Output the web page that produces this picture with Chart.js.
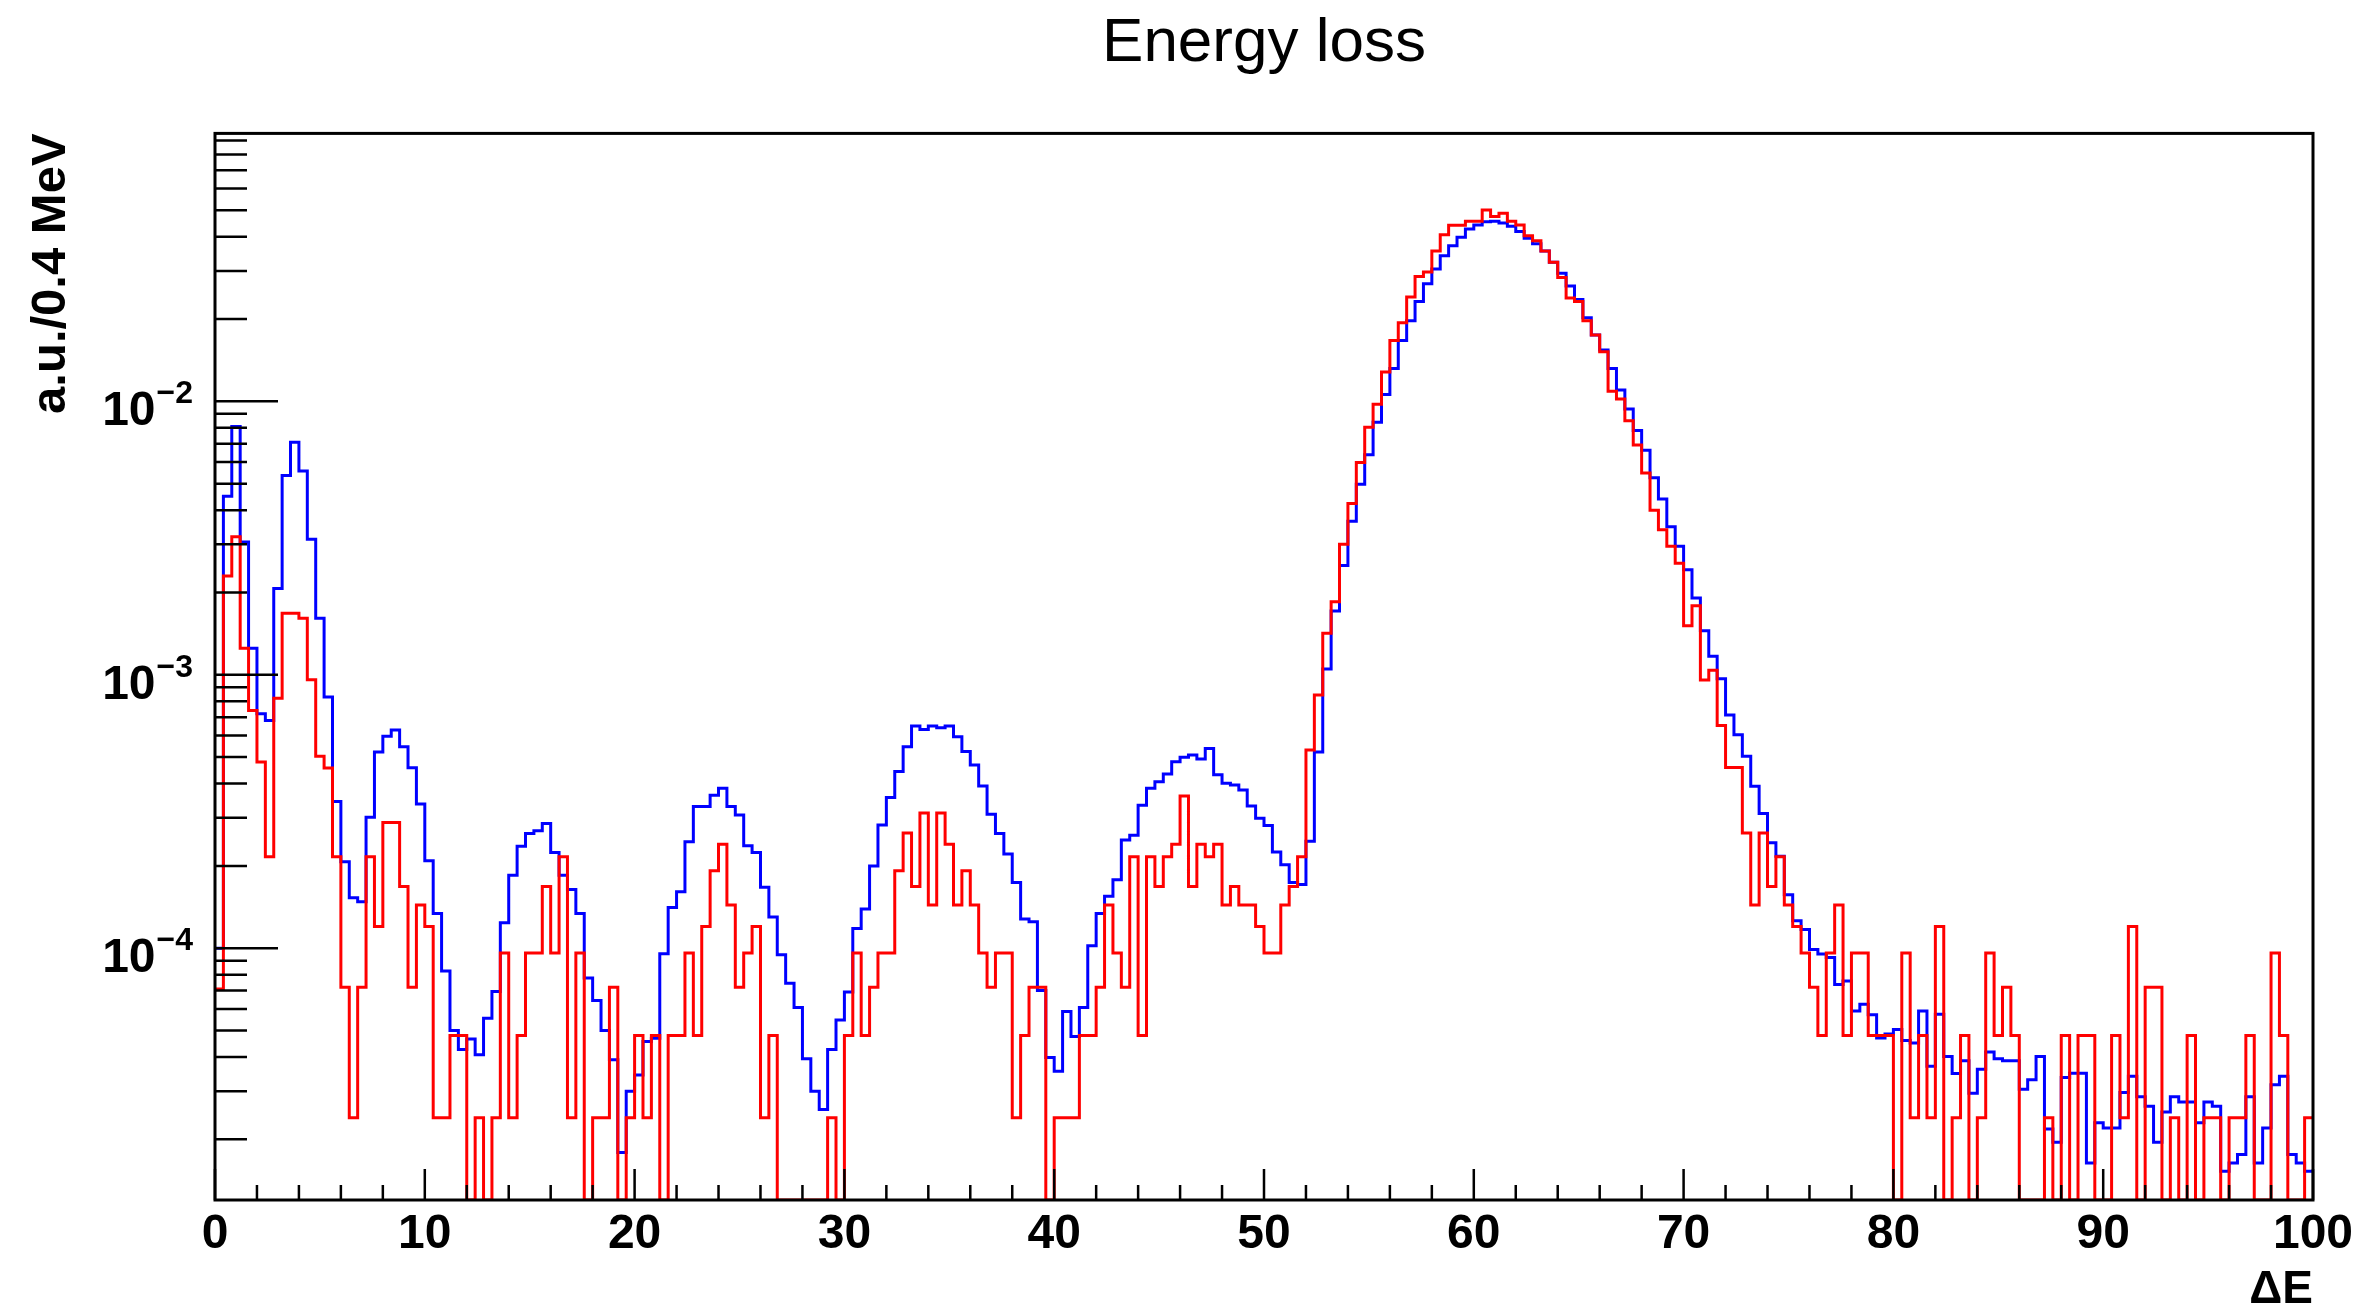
<!DOCTYPE html>
<html>
<head>
<meta charset="utf-8">
<script src="https://cdn.jsdelivr.net/npm/chart.js@4.4.1/dist/chart.umd.min.js"></script>
<style>
  html, body { margin: 0; padding: 0; background: #ffffff; }
  #wrap { width: 2363px; height: 1310px; }
</style>
</head>
<body>
<div id="wrap"><canvas id="c" width="2363" height="1310"></canvas></div>
<script>
// ---- histogram binning (0 .. 100, 0.4 MeV per bin) ----
const xMin = 0;
const xMax = 100;
const binWidth = 0.4;

// ---- y axis range (log) ----
const yMin = 1.2e-5;
const yMax = 0.0955;

// ---- tick labels ----
const xTickStep = 10;
const yLabelValues = [1e-4, 1e-3, 1e-2];
const yLabelExponents = ['\u22124', '\u22123', '\u22122'];

// ---- series values (per bin) ----
const blueValues = [
 1.00e-4, 4.50e-3, 8.09e-3, 3.06e-3, 1.25e-3, 7.21e-4, 6.81e-4, 2.07e-3, 5.36e-3, 7.08e-3,
 5.56e-3, 3.13e-3, 1.61e-3, 8.30e-4, 3.44e-4, 2.07e-4, 1.53e-4, 1.48e-4, 3.01e-4, 5.22e-4,
 5.96e-4, 6.28e-4, 5.46e-4, 4.57e-4, 3.37e-4, 2.09e-4, 1.34e-4, 8.26e-5, 5.00e-5, 4.26e-5,
 4.66e-5, 4.08e-5, 5.55e-5, 6.95e-5, 1.24e-4, 1.85e-4, 2.36e-4, 2.63e-4, 2.69e-4, 2.86e-4,
 2.24e-4, 1.85e-4, 1.64e-4, 1.34e-4, 7.78e-5, 6.44e-5, 5.00e-5, 3.91e-5, 1.79e-5, 3.00e-5,
 3.44e-5, 4.56e-5, 4.69e-5, 9.55e-5, 1.41e-4, 1.61e-4, 2.45e-4, 3.30e-4, 3.30e-4, 3.63e-4,
 3.85e-4, 3.30e-4, 3.07e-4, 2.37e-4, 2.24e-4, 1.67e-4, 1.30e-4, 9.46e-5, 7.45e-5, 6.07e-5,
 3.94e-5, 3.00e-5, 2.57e-5, 4.26e-5, 5.46e-5, 6.92e-5, 1.18e-4, 1.39e-4, 2.00e-4, 2.82e-4,
 3.56e-4, 4.43e-4, 5.46e-4, 6.50e-4, 6.31e-4, 6.50e-4, 6.40e-4, 6.50e-4, 5.94e-4, 5.24e-4,
 4.68e-4, 3.92e-4, 3.09e-4, 2.63e-4, 2.21e-4, 1.74e-4, 1.28e-4, 1.25e-4, 7.01e-5, 3.98e-5,
 3.55e-5, 5.87e-5, 4.75e-5, 6.07e-5, 1.02e-4, 1.34e-4, 1.55e-4, 1.78e-4, 2.49e-4, 2.59e-4,
 3.33e-4, 3.85e-4, 4.06e-4, 4.34e-4, 4.81e-4, 4.99e-4, 5.09e-4, 4.92e-4, 5.38e-4, 4.31e-4,
 4.01e-4, 3.95e-4, 3.79e-4, 3.31e-4, 2.99e-4, 2.81e-4, 2.25e-4, 2.02e-4, 1.74e-4, 1.71e-4,
 2.46e-4, 5.22e-4, 1.05e-3, 1.71e-3, 2.51e-3, 3.64e-3, 4.98e-3, 6.38e-3, 8.39e-3, 1.06e-2,
 1.32e-2, 1.67e-2, 1.97e-2, 2.32e-2, 2.69e-2, 3.05e-2, 3.41e-2, 3.71e-2, 3.98e-2, 4.27e-2,
 4.42e-2, 4.54e-2, 4.56e-2, 4.49e-2, 4.37e-2, 4.18e-2, 3.95e-2, 3.77e-2, 3.55e-2, 3.23e-2,
 2.94e-2, 2.64e-2, 2.36e-2, 2.02e-2, 1.75e-2, 1.54e-2, 1.32e-2, 1.10e-2, 9.38e-3, 7.82e-3,
 6.62e-3, 5.26e-3, 4.39e-3, 3.48e-3, 2.95e-3, 2.42e-3, 1.91e-3, 1.45e-3, 1.17e-3, 9.68e-4,
 7.13e-4, 6.04e-4, 5.04e-4, 3.91e-4, 3.11e-4, 2.43e-4, 2.17e-4, 1.57e-4, 1.26e-4, 1.17e-4,
 9.89e-5, 9.53e-5, 9.25e-5, 7.36e-5, 7.59e-5, 5.89e-5, 6.24e-5, 5.71e-5, 4.70e-5, 4.86e-5,
 5.04e-5, 4.60e-5, 4.50e-5, 5.90e-5, 3.70e-5, 5.74e-5, 4.02e-5, 3.48e-5, 3.88e-5, 2.95e-5,
 3.61e-5, 4.17e-5, 3.94e-5, 3.88e-5, 3.88e-5, 3.05e-5, 3.30e-5, 4.02e-5, 2.18e-5, 1.95e-5,
 3.37e-5, 3.49e-5, 3.49e-5, 1.64e-5, 2.30e-5, 2.20e-5, 2.20e-5, 2.97e-5, 3.40e-5, 2.86e-5,
 2.64e-5, 1.95e-5, 2.52e-5, 2.86e-5, 2.74e-5, 2.74e-5, 2.30e-5, 2.74e-5, 2.64e-5, 1.53e-5,
 1.64e-5, 1.76e-5, 2.86e-5, 1.64e-5, 2.20e-5, 3.17e-5, 3.40e-5, 1.76e-5, 1.64e-5, 1.53e-5
];

const redValues = [
 7.1e-5, 2.30e-3, 3.20e-3, 1.25e-3, 7.4e-4, 4.8e-4, 2.16e-4, 8.2e-4, 1.68e-3, 1.68e-3,
 1.61e-3, 9.6e-4, 5.04e-4, 4.56e-4, 2.16e-4, 7.2e-5, 2.4e-5, 7.2e-5, 2.16e-4, 1.2e-4,
 2.88e-4, 2.88e-4, 1.68e-4, 7.2e-5, 1.44e-4, 1.2e-4, 2.4e-5, 2.4e-5, 4.8e-5, 4.8e-5,
 0, 2.4e-5, 0, 2.4e-5, 9.6e-5, 2.4e-5, 4.8e-5, 9.6e-5, 9.6e-5, 1.68e-4,
 9.6e-5, 2.16e-4, 2.4e-5, 9.6e-5, 0, 2.4e-5, 2.4e-5, 7.2e-5, 0, 2.4e-5,
 4.8e-5, 2.4e-5, 4.8e-5, 0, 4.8e-5, 4.8e-5, 9.6e-5, 4.8e-5, 1.2e-4, 1.92e-4,
 2.4e-4, 1.44e-4, 7.2e-5, 9.6e-5, 1.2e-4, 2.4e-5, 4.8e-5, 0, 0, 0,
 0, 0, 0, 2.4e-5, 0, 4.8e-5, 9.6e-5, 4.8e-5, 7.2e-5, 9.6e-5,
 9.6e-5, 1.92e-4, 2.64e-4, 1.68e-4, 3.12e-4, 1.44e-4, 3.12e-4, 2.4e-4, 1.44e-4, 1.92e-4,
 1.44e-4, 9.6e-5, 7.2e-5, 9.6e-5, 9.6e-5, 2.4e-5, 4.8e-5, 7.2e-5, 7.2e-5, 0,
 2.4e-5, 2.4e-5, 2.4e-5, 4.8e-5, 4.8e-5, 7.2e-5, 1.44e-4, 9.6e-5, 7.2e-5, 2.16e-4,
 4.8e-5, 2.16e-4, 1.68e-4, 2.16e-4, 2.4e-4, 3.6e-4, 1.68e-4, 2.4e-4, 2.16e-4, 2.4e-4,
 1.44e-4, 1.68e-4, 1.44e-4, 1.44e-4, 1.2e-4, 9.6e-5, 9.6e-5, 1.44e-4, 1.68e-4, 2.16e-4,
 5.31e-4, 8.43e-4, 1.42e-3, 1.85e-3, 3.0e-3, 4.23e-3, 5.97e-3, 8.04e-3, 9.75e-3, 1.28e-2,
 1.67e-2, 1.94e-2, 2.41e-2, 2.86e-2, 2.97e-2, 3.55e-2, 4.07e-2, 4.41e-2, 4.41e-2, 4.56e-2,
 4.56e-2, 5.01e-2, 4.74e-2, 4.88e-2, 4.56e-2, 4.42e-2, 4.03e-2, 3.87e-2, 3.55e-2, 3.23e-2,
 2.84e-2, 2.39e-2, 2.32e-2, 1.97e-2, 1.75e-2, 1.52e-2, 1.09e-2, 1.02e-2, 8.49e-3, 6.92e-3,
 5.47e-3, 4.00e-3, 3.39e-3, 2.95e-3, 2.56e-3, 1.51e-3, 1.79e-3, 9.57e-4, 1.04e-3, 6.52e-4,
 4.58e-4, 4.58e-4, 2.64e-4, 1.44e-4, 2.64e-4, 1.68e-4, 2.16e-4, 1.44e-4, 1.2e-4, 9.6e-5,
 7.2e-5, 4.8e-5, 9.6e-5, 1.44e-4, 4.8e-5, 9.6e-5, 9.6e-5, 4.8e-5, 4.8e-5, 4.8e-5,
 0, 9.6e-5, 2.4e-5, 4.8e-5, 2.4e-5, 1.2e-4, 0, 2.4e-5, 4.8e-5, 0,
 2.4e-5, 9.6e-5, 4.8e-5, 7.2e-5, 4.8e-5, 0, 0, 0, 2.4e-5, 0,
 4.8e-5, 0, 4.8e-5, 4.8e-5, 0, 0, 4.8e-5, 2.4e-5, 1.2e-4, 0,
 7.2e-5, 7.2e-5, 0, 2.4e-5, 0, 4.8e-5, 0, 2.4e-5, 2.4e-5, 0,
 2.4e-5, 2.4e-5, 4.8e-5, 0, 0, 9.6e-5, 4.8e-5, 0, 0, 2.4e-5
];

// ---- build step points (left bin edges + closing right edge); empty bins drop to the axis floor ----
function toStepPoints(values) {
  const pts = values.map((v, i) => ({ x: xMin + i * binWidth, y: v > 0 ? v : yMin }));
  pts.push({ x: xMax, y: pts[pts.length - 1].y });
  return pts;
}

const FONT = "'Liberation Sans', Arial, Helvetica, sans-serif";
Chart.defaults.font.family = FONT;
Chart.defaults.color = '#000000';

const rootFrame = {
  id: 'rootFrame',
  afterDatasetsDraw(chart) {
    const { ctx, chartArea: a, scales: { x, y } } = chart;
    ctx.save();
    ctx.strokeStyle = '#000000';
    ctx.lineWidth = 2.5;
    ctx.beginPath();
    for (let v = xMin; v <= xMax; v += 2) {
      const px = x.getPixelForValue(v);
      const len = (v % 10 === 0) ? 31 : 15;
      ctx.moveTo(px, a.bottom);
      ctx.lineTo(px, a.bottom - len);
    }
    for (let d = -6; d <= 0; d++) {
      for (let m = 1; m <= 9; m++) {
        const val = m * Math.pow(10, d);
        if (val < y.min || val > y.max) continue;
        const py = y.getPixelForValue(val);
        const len = (m === 1) ? 63 : 32;
        ctx.moveTo(a.left, py);
        ctx.lineTo(a.left + len, py);
      }
    }
    ctx.stroke();
    ctx.lineWidth = 3;
    ctx.strokeRect(a.left, a.top, a.right - a.left, a.bottom - a.top);

    // log-axis labels with superscript exponents
    ctx.fillStyle = '#000000';
    ctx.textBaseline = 'alphabetic';
    ctx.textAlign = 'right';
    const rightEdge = a.left - 22;
    yLabelValues.forEach((val, i) => {
      const py = y.getPixelForValue(val);
      ctx.font = 'bold 32px ' + FONT;
      const exp = yLabelExponents[i];
      const ew = ctx.measureText(exp).width;
      ctx.fillText(exp, rightEdge, py + 2);
      ctx.font = 'bold 48px ' + FONT;
      ctx.fillText('10', rightEdge - ew - 1, py + 24);
    });
    ctx.restore();
  }
};

new Chart(document.getElementById('c'), {
  type: 'line',
  data: {
    datasets: [
      {
        label: 'red',
        data: toStepPoints(redValues),
        borderColor: '#ff0000',
        borderWidth: 3,
        stepped: 'before',
        pointRadius: 0,
        fill: false
      },
      {
        label: 'blue',
        data: toStepPoints(blueValues),
        borderColor: '#0000ff',
        borderWidth: 3,
        stepped: 'before',
        pointRadius: 0,
        fill: false
      }
    ]
  },
  options: {
    responsive: false,
    devicePixelRatio: 1,
    animation: false,
    layout: { padding: { left: 0, right: 50, top: 0, bottom: 0 } },
    plugins: {
      legend: { display: false },
      tooltip: { enabled: false },
      title: {
        display: true,
        text: 'Energy loss',
        fullSize: false,
        color: '#000000',
        font: { size: 62, weight: 'normal', lineHeight: 1.2 },
        padding: { top: 7, bottom: 52 }
      }
    },
    scales: {
      x: {
        type: 'linear',
        min: xMin,
        max: xMax,
        grid: { display: false, drawTicks: false },
        border: { display: false },
        ticks: {
          stepSize: xTickStep,
          padding: 6,
          autoSkip: false,
          maxRotation: 0,
          font: { size: 48, weight: 'bold', lineHeight: 1.2 },
          color: '#000000'
        },
        title: {
          display: true,
          text: '\u0394E',
          align: 'end',
          color: '#000000',
          font: { size: 46, weight: 'bold', lineHeight: 0.875 },
          padding: { top: 0, bottom: 0 }
        },
        afterFit(scale) { scale.height = 110; }
      },
      y: {
        type: 'logarithmic',
        min: yMin,
        max: yMax,
        grid: { display: false, drawTicks: false },
        border: { display: false },
        ticks: { display: false },
        title: {
          display: true,
          text: 'a.u./0.4 MeV',
          align: 'end',
          color: '#000000',
          font: { size: 49, weight: 'bold', lineHeight: 1.2 },
          padding: { top: 22, bottom: 0 }
        },
        afterFit(scale) { scale.width = 215; }
      }
    }
  },
  plugins: [rootFrame]
});
</script>
</body>
</html>
